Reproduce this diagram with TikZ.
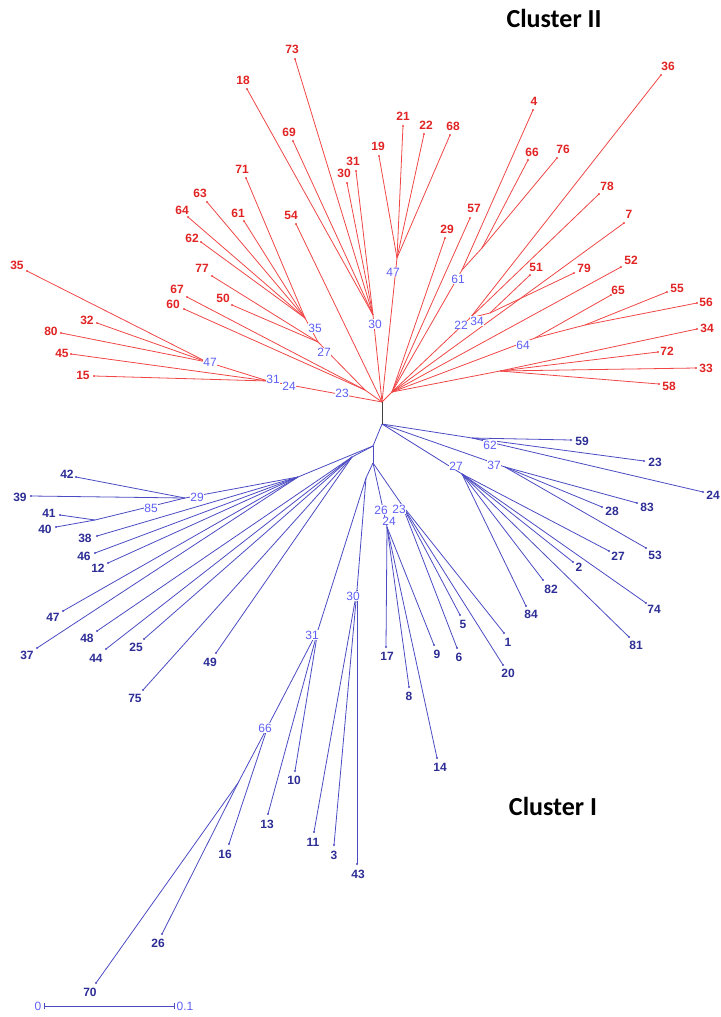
\documentclass[tikz,border=0pt]{standalone}
\usepackage{fontspec}
\newfontfamily\labfont{Liberation Sans}
\newfontfamily\clfont{Carlito}
\definecolor{redline}{RGB}{240,70,70}
\definecolor{redtext}{RGB}{225,35,35}
\definecolor{blueline}{RGB}{75,75,195}
\definecolor{bluetext}{RGB}{45,45,150}
\definecolor{bootc}{RGB}{95,95,245}
\tikzset{
  rl/.style={draw=redline, line width=0.8pt},
  bl/.style={draw=blueline, line width=0.8pt},
  rlab/.style={text=redtext, font=\labfont\bfseries\fontsize{12}{14}\selectfont, inner sep=0pt},
  blab/.style={text=bluetext, font=\labfont\bfseries\fontsize{12}{14}\selectfont, inner sep=0pt},
  boot/.style={text=bootc, fill=white, font=\labfont\fontsize{12}{14}\selectfont, inner sep=0.3pt},
  clus/.style={font=\clfont\bfseries\fontsize{26}{29}\selectfont, text=black, inner sep=0pt}
}
\begin{document}
\begin{tikzpicture}[x=1pt,y=-1pt]
\useasboundingbox (0,0) rectangle (720,1017);
% ---------- red leaves ----------
\foreach \n/\tx/\ty/\lx/\ly in {
 73/295/59/292/49, 18/247/89/243/80, 69/293/141/289/132, 71/246/178/242/169,
 63/207/202/200/193, 64/188/217/182/210, 61/244/221/238/213, 54/296/224/291/215,
 62/201/242/192/238, 30/347/183/344/173, 31/356/171/353/161, 19/379/156/378/146,
 21/403/126/403/116, 22/424/134/426/125, 68/450/135/453/126, 4/533/110/534/101,
 66/528/160/532/152, 76/557/158/563/149, 36/661/75/668/66, 78/599/194/607/186,
 7/624/223/629/214, 57/470/218/474/208, 29/445/238/447/229, 51/530/275/536/267,
 79/574/273/584/268, 52/621/267/631/260, 65/611/295/618/290, 55/667/292/677/288,
 56/697/303/706/302, 34/697/329/707/328, 72/658/352/667/351, 33/696/368/706/368,
 58/659/384/669/386, 35/27/271/17/265, 77/212/276/202/268, 67/187/297/177/289,
 60/184/309/173/304, 50/232/305/223/298, 32/97/323/87/320, 80/61/333/51/331,
 45/71/354/62/353, 15/94/376/83/375}
{
  \coordinate (r\n) at (\tx,\ty);
  \coordinate (rlp\n) at (\lx,\ly);
}
% ---------- blue leaves ----------
\foreach \n/\tx/\ty/\lx/\ly in {
 59/571/440/582/441, 23/644/461/655/462, 24/703/492/713/495, 28/602/507/612/511,
 83/637/503/647/507, 27/609/551/618/556, 53/646/548/655/555, 2/573/562/579/567,
 82/543/580/551/589, 74/646/603/654/609, 84/526/606/531/614, 81/629/637/636/645,
 5/460/615/463/624, 1/504/633/508/642, 20/503/665/508/673, 6/457/648/459/657,
 9/434/645/437/654, 17/386/647/387/656, 8/409/687/409/696, 14/437/758/440/767,
 10/295/771/294/780, 13/268/814/267/824, 16/229/844/225/854, 11/314/832/313/842,
 3/334/845/334/855, 43/357/864/358/874, 26/162/934/158/943, 70/96/983/90/992,
 49/216/653/210/662, 75/143/690/135/698, 25/144/639/136/647, 44/106/649/96/658,
 48/97/631/87/638, 37/37/648/27/655, 47/63/611/53/617, 12/108/563/98/568,
 46/95/553/84/556, 38/97/536/85/538, 40/56/527/45/529, 41/60/515/49/513,
 39/31/496/20/497, 42/76/477/67/474}
{
  \coordinate (b\n) at (\tx,\ty);
  \coordinate (blp\n) at (\lx,\ly);
}
% ---------- red internal ----------
\coordinate (R0) at (382,402);
\coordinate (rN2) at (268,381);
\coordinate (rD) at (207,362);
\coordinate (rN35) at (305,318);
\coordinate (rN27) at (318,342);
\coordinate (rE) at (365,390);
\coordinate (rN30) at (373,315);
\coordinate (rN47) at (397,258);
\coordinate (RR) at (392,392);
\coordinate (rL2) at (500,371);
\coordinate (rN64) at (535,338);
\coordinate (rN5556) at (585,325);
\coordinate (rN22) at (470,318);
\coordinate (rN34) at (490,313);
\coordinate (rN61) at (462,270);
\coordinate (rN6676) at (482,248);
% ---------- blue internal ----------
\coordinate (B0) at (382,424);
\coordinate (bN62) at (472,438);
\coordinate (bN37) at (505,467);
\coordinate (bN27) at (462,474);
\coordinate (M1) at (373,446);
\coordinate (bW) at (298,477);
\coordinate (bN29) at (185,498);
\coordinate (bN4140) at (95,520);
\coordinate (bW2) at (352,457);
\coordinate (M3) at (373,463);
\coordinate (bN24) at (387,527);
\coordinate (bN23) at (402,505);
\coordinate (M5) at (366,478);
\coordinate (bN30) at (357,590);
\coordinate (bN31) at (318,630);
\coordinate (bN66) at (268,726);
\coordinate (bN7026) at (238,783);
% ---------- red edges ----------
\foreach \a/\b in {R0/rN2, rN2/rD, rD/r35, rD/r32, rD/r80, rN2/r45, rN2/r15,
  rN35/r61, rN35/r71, rN35/r63, rN35/r64, rN35/r62, rN27/rN35, rN27/r77, rN27/r50,
  rE/rN27, rE/r60, rE/r67, R0/rE,
  rN30/r73, rN30/r18, rN30/r69, rN30/r30, rN30/r31, R0/rN30, R0/r54,
  rN47/r19, rN47/r21, rN47/r22, rN47/r68, R0/rN47, R0/RR,
  RR/rL2, rL2/r34, rL2/r72, rL2/r33, rL2/r58,
  RR/rN64, rN64/r65, rN64/rN5556, rN5556/r55, rN5556/r56, RR/r52, RR/r7,
  RR/rN22, rN22/r36, rN22/r78, rN22/rN34, rN34/r51, rN34/r79,
  RR/rN61, rN61/r4, rN61/rN6676, rN6676/r66, rN6676/r76, RR/r57, RR/r29}
  \draw[rl] (\a) -- (\b);
% ---------- blue edges ----------
\foreach \a/\b in {B0/bN62, bN62/b59, bN62/b23, bN62/b24,
  B0/bN37, bN37/b28, bN37/b83, bN37/b53,
  B0/bN27, bN27/b84, bN27/b82, bN27/b81, bN27/b27, bN27/b2, bN27/b74,
  B0/M1, M1/bW, bW/bN29, bN29/b42, bN29/b39, bN29/bN4140, bN4140/b41, bN4140/b40,
  bW/b38, bW/b46, bW/b12, bW/b47, bW/b37,
  M1/bW2, bW2/b48, bW2/b44, bW2/b25, bW2/b49, bW2/b75,
  M1/M3, M3/bN24, bN24/b17, bN24/b8, bN24/b14, bN24/b9,
  M3/bN23, bN23/b5, bN23/b1, bN23/b20, bN23/b6,
  M3/M5, M5/bN30, bN30/b11, bN30/b3, bN30/b43,
  M5/bN31, bN31/b10, bN31/b13, bN31/bN66, bN66/b16, bN66/bN7026,
  bN7026/b70, bN7026/b26}
  \draw[bl] (\a) -- (\b);
\draw[line width=0.8pt, black!75] (R0) -- (B0);
% ---------- tip dots and leaf labels ----------
\foreach \n in {73,18,69,71,63,64,61,54,62,30,31,19,21,22,68,4,66,76,36,78,7,57,29,51,
  79,52,65,55,56,34,72,33,58,35,77,67,60,50,32,80,45,15}
{
  \fill[redline] (r\n) circle (1.2pt);
  \node[rlab] (rl\n) at (rlp\n) {\n};
}
\foreach \n in {59,23,24,28,83,27,53,2,82,74,84,81,5,1,20,6,9,17,8,14,10,13,16,11,3,43,
  26,70,49,75,25,44,48,37,47,12,46,38,40,41,39,42}
{
  \fill[blueline] (b\n) circle (1.2pt);
  \node[blab] (bl\n) at (blp\n) {\n};
}
% ---------- bootstrap labels ----------
\node[boot] (s1) at (210,362) {47};
\node[boot] (s2) at (273,379) {31};
\node[boot] (s3) at (289,386) {24};
\node[boot] (s4) at (342,393) {23};
\node[boot] (s5) at (315,328) {35};
\node[boot] (s6) at (324,352) {27};
\node[boot] (s7) at (375,324) {30};
\node[boot] (s8) at (393,272) {47};
\node[boot] (s9) at (458,279) {61};
\node[boot] (s10) at (461,325) {22};
\node[boot] (s11) at (477,321) {34};
\node[boot] (s12) at (523,345) {64};
\node[boot] (s13) at (490,445) {62};
\node[boot] (s14) at (494,465) {37};
\node[boot] (s15) at (456,466) {27};
\node[boot] (s16) at (381,510) {26};
\node[boot] (s17) at (399,509) {23};
\node[boot] (s18) at (389,521) {24};
\node[boot] (s19) at (197,497) {29};
\node[boot] (s20) at (151,508) {85};
\node[boot] (s21) at (353,596) {30};
\node[boot] (s22) at (312,635) {31};
\node[boot] (s23) at (265,728) {66};
% ---------- scale bar ----------
\coordinate (sb0) at (44,1006);
\coordinate (sb1) at (174,1006);
\draw[bl] (sb0) -- (sb1);
\draw[bl] ([yshift=-3pt]sb0) -- ([yshift=3pt]sb0);
\draw[bl] ([yshift=-3pt]sb1) -- ([yshift=3pt]sb1);
\node[boot, fill=none] (sbl0) at (38,1006) {0};
\node[boot, fill=none] (sbl1) at (185,1006) {0.1};
% ---------- cluster titles ----------
\node[clus] (c2) at (554,18) {Cluster II};
\node[clus] (c1) at (553,806) {Cluster I};
\end{tikzpicture}
\end{document}
